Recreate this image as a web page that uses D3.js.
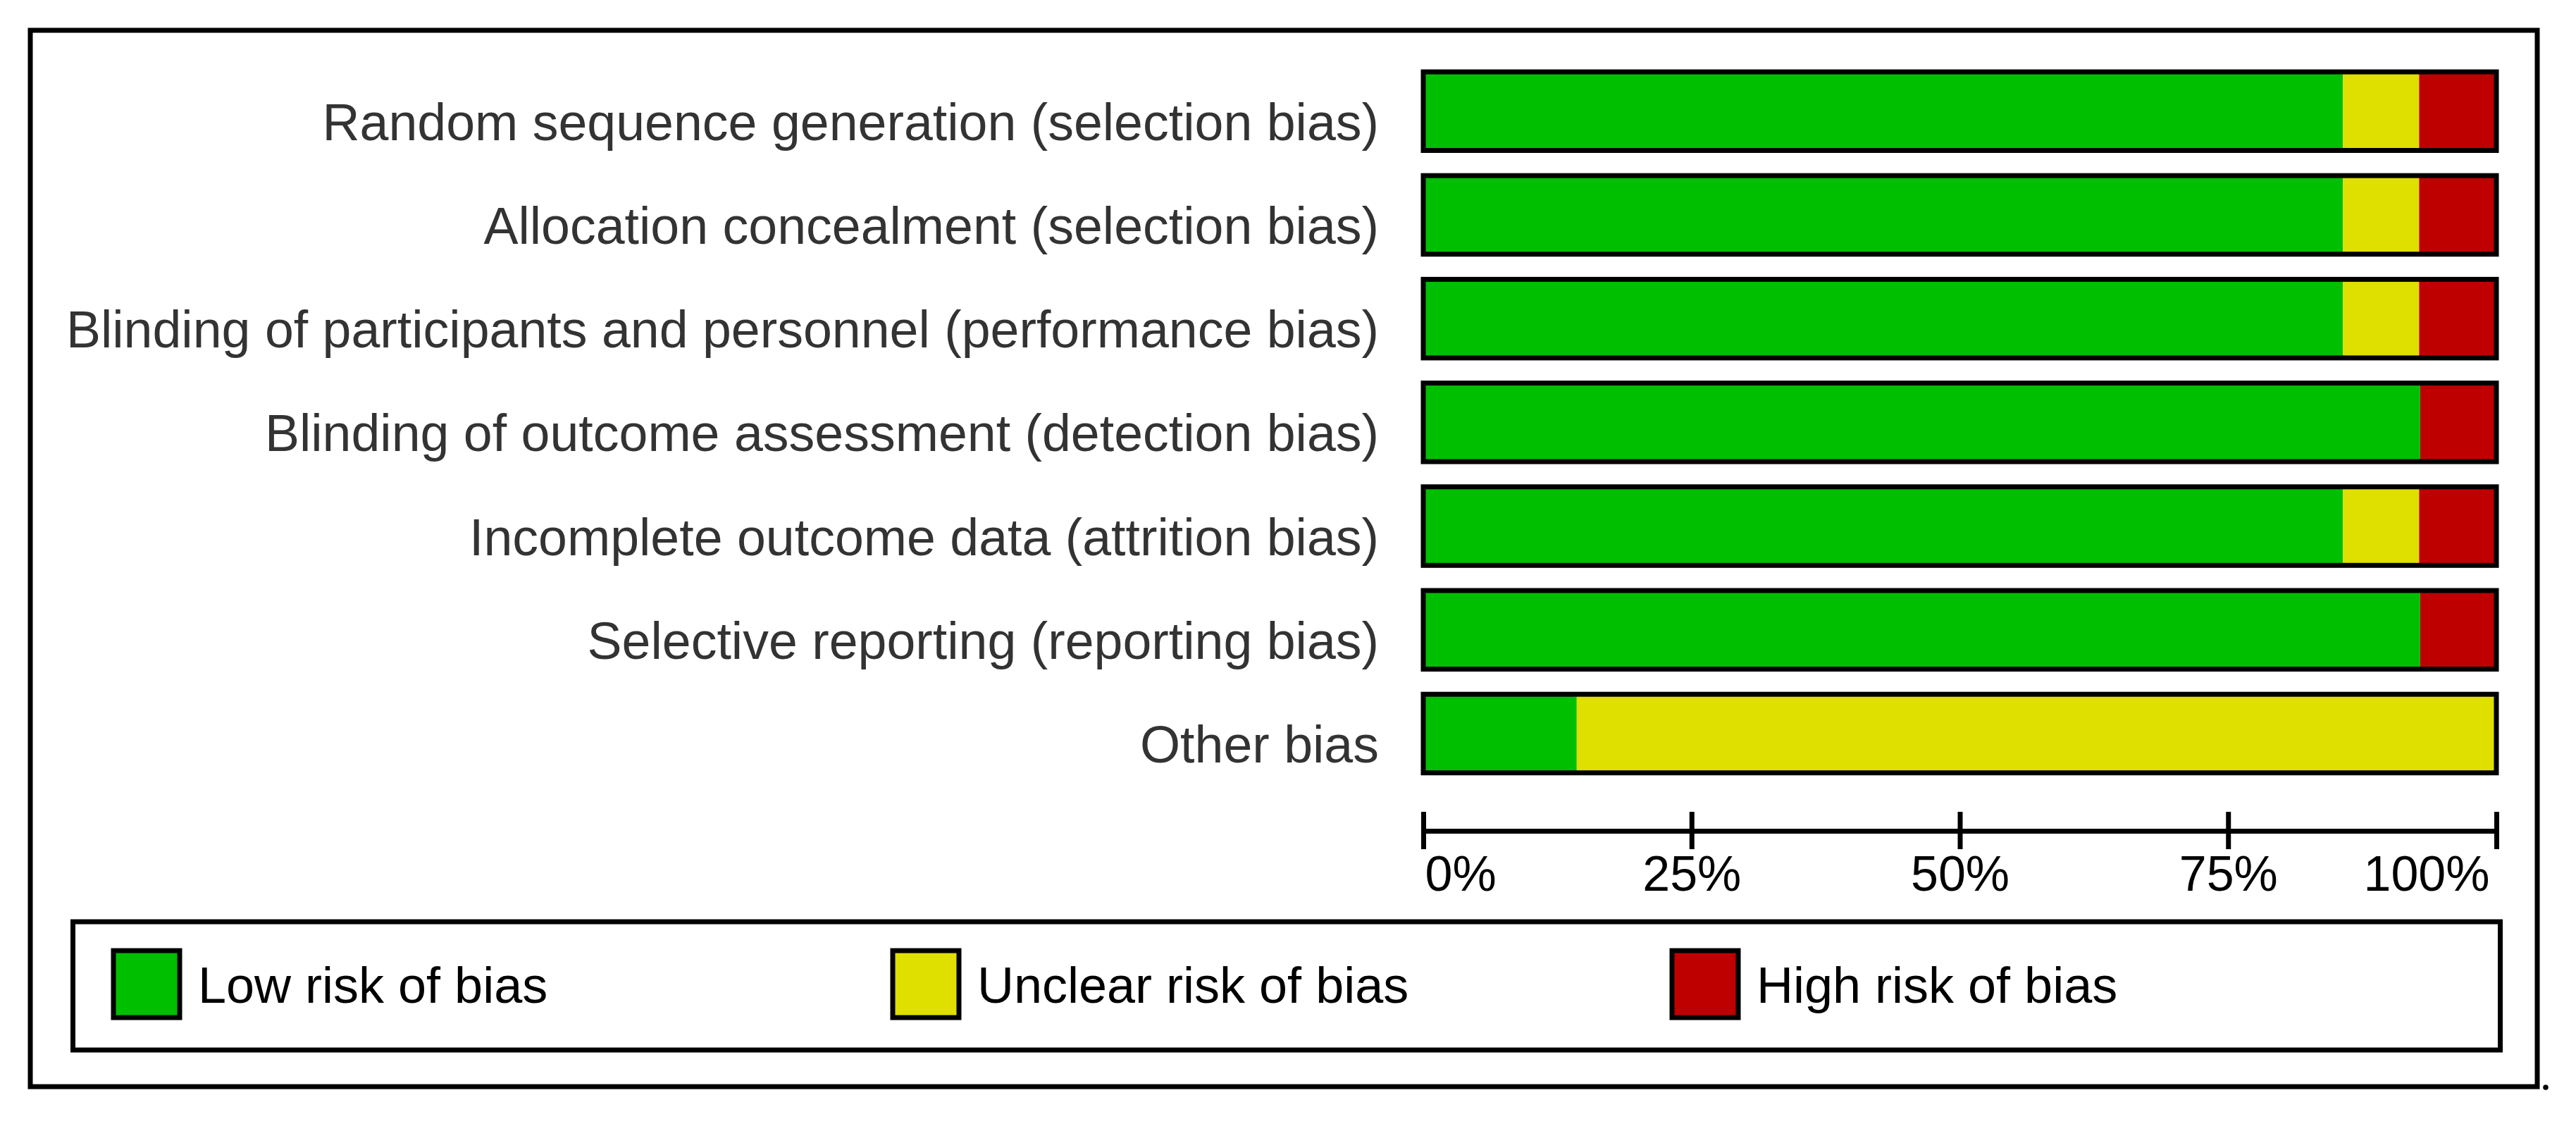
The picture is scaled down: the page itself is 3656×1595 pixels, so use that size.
<!DOCTYPE html>
<html>
<head>
<meta charset="utf-8">
<script src="https://cdn.jsdelivr.net/npm/d3@7"></script>
<style>
  html, body { margin: 0; padding: 0; background: #fff; }
  svg { display: block; }
</style>
</head>
<body>
<script>
// ---- data ----
const domains = [
  "Random sequence generation (selection bias)",
  "Allocation concealment (selection bias)",
  "Blinding of participants and personnel (performance bias)",
  "Blinding of outcome assessment (detection bias)",
  "Incomplete outcome data (attrition bias)",
  "Selective reporting (reporting bias)",
  "Other bias"
];
// percentage of studies per judgement
const lowRisk     = [85.7, 85.7, 85.7, 92.9, 85.7, 92.9, 14.3];
const unclearRisk = [7.1, 7.1, 7.1, 0, 7.1, 0, 85.7];
const highRisk    = [7.2, 7.2, 7.2, 7.1, 7.2, 7.1, 0];
const seriesNames = ["Low risk of bias", "Unclear risk of bias", "High risk of bias"];
const seriesColors = ["#00bf00", "#dfdf00", "#bf0000"];
const tickValues = [0, 25, 50, 75, 100];
const tickLabels = ["0%", "25%", "50%", "75%", "100%"];

const W = 3656, H = 1595;
const svg = d3.select("body").append("svg").attr("width", W).attr("height", H);

// outer frame
svg.append("rect").attr("x", 43).attr("y", 43).attr("width", 3558).attr("height", 1499)
  .attr("fill", "none").attr("stroke", "#000").attr("stroke-width", 7);
svg.append("circle").attr("cx", 3613).attr("cy", 1543).attr("r", 3.8).attr("fill", "#000");

const x = d3.scaleLinear().domain([0, 100]).range([2020, 3543]);
const y = d3.scaleBand().domain(domains).range([102, 1096.7]).paddingInner(0.2425).paddingOuter(0);

const rows = domains.map((d, i) => ({ name: d, vals: [lowRisk[i], unclearRisk[i], highRisk[i]] }));
const stack = d3.stack().keys([0, 1, 2]).value((d, k) => d.vals[k]);
const layers = stack(rows);

const g = svg.append("g");
layers.forEach((layer, k) => {
  g.selectAll(null).data(layer).join("rect")
    .attr("x", d => x(d[0]))
    .attr("y", d => y(d.data.name))
    .attr("width", d => Math.max(0, x(d[1]) - x(d[0])))
    .attr("height", y.bandwidth())
    .attr("fill", seriesColors[k]);
});
// bar outlines
g.selectAll(null).data(domains).join("rect")
  .attr("x", x(0)).attr("y", d => y(d))
  .attr("width", x(100) - x(0)).attr("height", y.bandwidth())
  .attr("fill", "none").attr("stroke", "#000").attr("stroke-width", 7);

// category labels
svg.append("g").selectAll("text").data(domains).join("text")
  .attr("x", 1957)
  .attr("y", d => y(d) + y.bandwidth() / 2 + 41)
  .attr("text-anchor", "end")
  .attr("font-family", "Liberation Sans, Arial, sans-serif")
  .attr("font-size", 73.5)
  .attr("fill", "#333")
  .text(d => d);

// axis
const axis = d3.axisBottom(x).tickValues(tickValues).tickSizeOuter(0).tickSizeInner(26)
  .tickFormat((d, i) => tickLabels[i]);
const ax = svg.append("g").attr("transform", "translate(0,1179)").call(axis);
ax.select(".domain").attr("stroke", "#000").attr("stroke-width", 7);
ax.selectAll(".tick line").attr("y1", -27).attr("y2", 26).attr("stroke", "#000").attr("stroke-width", 7);
ax.selectAll(".tick text")
  .attr("y", 85).attr("dy", 0)
  .attr("font-family", "Liberation Sans, Arial, sans-serif")
  .attr("font-size", 70)
  .attr("fill", "#000")
  .attr("text-anchor", (d, i) => i === 0 ? "start" : (i === tickValues.length - 1 ? "end" : "middle"))
  .attr("dx", (d, i) => i === 0 ? 2 : (i === tickValues.length - 1 ? -10 : 0));

// legend
svg.append("rect").attr("x", 103.5).attr("y", 1308).attr("width", 3445).attr("height", 182)
  .attr("fill", "none").attr("stroke", "#000").attr("stroke-width", 7);
const lx = d3.scaleBand().domain(seriesNames).range([158, 158 + 3 * 1106]);
const lg = svg.append("g").selectAll("g").data(seriesNames).join("g")
  .attr("transform", d => `translate(${lx(d)},1346)`);
lg.append("rect").attr("x", 3).attr("y", 3).attr("width", 94).attr("height", 95)
  .attr("fill", (d, i) => seriesColors[i]).attr("stroke", "#000").attr("stroke-width", 7);
lg.append("text").attr("x", 123).attr("y", 77)
  .attr("font-family", "Liberation Sans, Arial, sans-serif")
  .attr("font-size", 72)
  .attr("fill", "#000")
  .text(d => d);
</script>
</body>
</html>
